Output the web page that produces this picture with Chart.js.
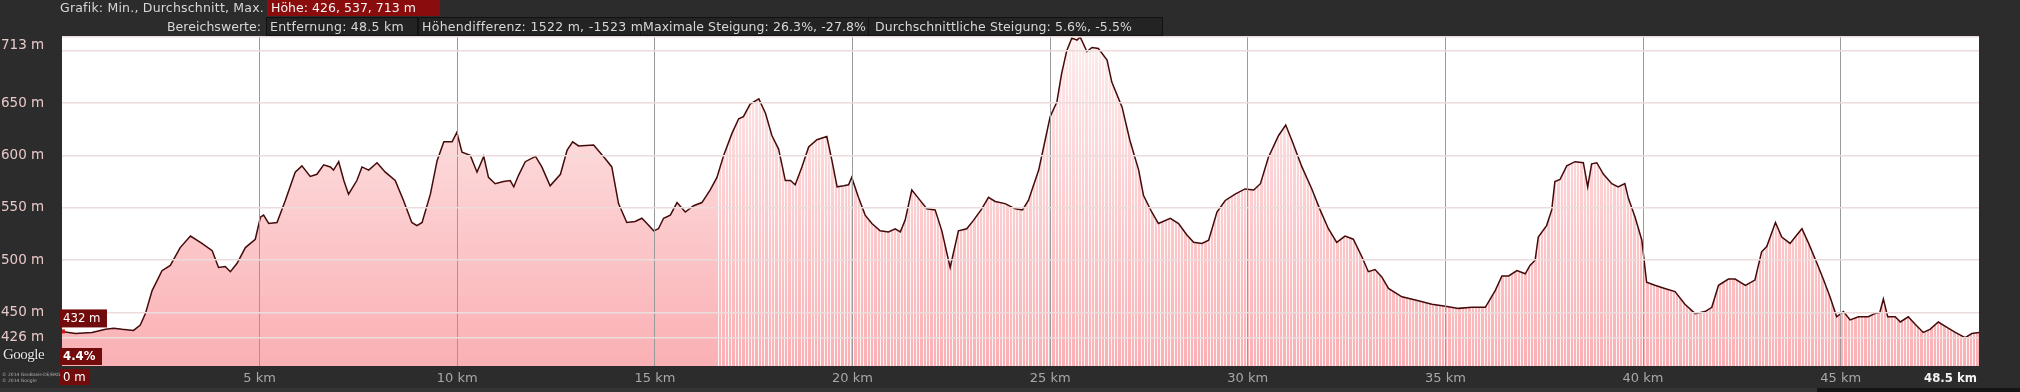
<!DOCTYPE html>
<html><head><meta charset="utf-8">
<script src="https://cdn.jsdelivr.net/npm/chart.js@4/dist/chart.umd.min.js"></script>
<style>
html,body{margin:0;padding:0;background:#2c2c2c;width:2020px;height:392px;overflow:hidden;}
#wrap{position:absolute;left:0;top:0;width:2020px;height:392px;}
#c{position:absolute;left:0;top:0;}
.bx{position:absolute;box-sizing:border-box;border:1px solid #121212;background:#232323;}
.red{background:#8a0c0c;border:none;}
.t{position:absolute;color:#d8d8d8;font-family:"DejaVu Sans",sans-serif;font-size:12.5px;line-height:15px;white-space:nowrap;}
.w{color:#f4f4f4;}
.g{position:absolute;left:3px;top:346px;font-family:"Liberation Serif",serif;font-size:15px;color:#e6e6e6;letter-spacing:-0.5px;text-shadow:0 0 2px #000;z-index:3;}
.cp{position:absolute;left:2px;font-family:"DejaVu Sans",sans-serif;font-size:4.5px;color:#aaa;z-index:3;}
.strip{position:absolute;top:388px;height:4px;}
</style></head>
<body>
<div id="wrap">
<canvas id="c" width="2020" height="392"></canvas>
<div class="bx red" style="left:267px;top:0px;width:173px;height:16px;"></div>
<div class="bx" style="left:266px;top:17px;width:152px;height:19px;"></div>
<div class="bx" style="left:418px;top:17px;width:223px;height:19px;"></div>
<div class="bx" style="left:640px;top:17px;width:229px;height:19px;"></div>
<div class="bx" style="left:868px;top:17px;width:295px;height:19px;"></div>
<span class="t" data-w="204" style="left:60px;top:0px;">Grafik: Min., Durchschnitt, Max.</span>
<span class="t w" data-w="145" style="left:271px;top:0px;" id="hoehe"></span>
<span class="t" data-w="94" style="left:167px;top:19px;">Bereichswerte:</span>
<span class="t" data-w="134" style="left:270px;top:19px;" id="b1"></span>
<span class="t" data-w="221" style="left:422px;top:19px;" id="b2"></span>
<span class="t" data-w="223" style="left:643px;top:19px;" id="b3"></span>
<span class="t" data-w="257" style="left:875px;top:19px;" id="b4"></span>
<div class="g">Google</div>
<div class="cp" style="top:372px;">© 2014 GeoBasis-DE/BKG</div>
<div class="cp" style="top:378px;">© 2014 Google</div>
<div class="strip" style="left:0;width:1817px;background:#343434;"></div>
<div class="strip" style="left:1817px;width:203px;background:#151515;"></div>
</div>
<script>
// ---- data ----
const distanceKm = [0.00,0.34,0.76,1.10,1.31,1.52,1.81,1.98,2.11,2.28,2.53,2.74,2.99,3.25,3.54,3.80,3.96,4.13,4.26,4.43,4.64,4.89,5.02,5.10,5.23,5.44,5.65,5.90,6.07,6.28,6.45,6.62,6.79,6.87,7.00,7.13,7.25,7.46,7.59,7.76,7.97,8.18,8.43,8.64,8.85,8.98,9.11,9.32,9.49,9.66,9.87,9.99,10.12,10.33,10.50,10.67,10.79,10.96,11.17,11.34,11.43,11.55,11.72,11.98,12.14,12.35,12.61,12.78,12.92,13.07,13.45,13.74,13.91,14.08,14.29,14.50,14.67,14.80,14.97,15.09,15.22,15.39,15.56,15.77,15.98,16.19,16.40,16.57,16.74,16.95,17.12,17.24,17.41,17.63,17.80,17.96,18.13,18.30,18.43,18.55,18.72,18.89,19.10,19.35,19.48,19.61,19.78,19.90,19.98,20.15,20.32,20.49,20.70,20.91,21.08,21.21,21.33,21.50,21.67,21.88,22.09,22.26,22.47,22.68,22.89,23.06,23.27,23.44,23.61,23.86,24.12,24.30,24.45,24.71,24.87,25.00,25.17,25.29,25.42,25.55,25.68,25.76,25.93,26.06,26.22,26.44,26.56,26.82,27.02,27.24,27.36,27.57,27.74,28.04,28.25,28.46,28.63,28.84,29.01,29.22,29.43,29.68,29.93,30.15,30.32,30.52,30.78,30.96,31.12,31.37,31.62,31.83,32.04,32.25,32.46,32.67,32.89,33.05,33.22,33.39,33.56,33.90,34.24,34.66,35.00,35.33,35.67,36.01,36.26,36.43,36.60,36.81,37.02,37.14,37.27,37.35,37.56,37.69,37.77,37.90,38.07,38.28,38.49,38.60,38.70,38.83,39.00,39.21,39.37,39.54,39.63,39.80,39.97,40.09,40.30,40.55,40.81,41.06,41.32,41.57,41.74,41.91,42.16,42.33,42.59,42.83,43.00,43.13,43.35,43.51,43.72,43.89,44.02,44.19,44.40,44.56,44.73,44.90,45.07,45.24,45.45,45.70,45.86,45.99,46.08,46.19,46.38,46.51,46.71,46.88,47.09,47.26,47.47,47.68,47.90,48.15,48.32,48.50];
const elevationM = [432,430,431,434,435,434,433,438,449,471,490,495,512,523,516,509,493,494,489,497,512,520,541,543,535,536,557,584,590,580,582,591,589,586,594,576,563,576,589,586,593,584,576,557,536,533,536,563,595,613,613,622,603,600,584,599,579,573,575,576,570,581,594,599,589,571,582,605,613,609,610,597,589,554,536,537,540,535,528,530,540,543,555,546,552,555,567,579,600,621,635,637,649,654,640,619,606,576,576,572,589,608,615,618,595,570,571,572,579,560,543,535,528,527,530,527,538,567,559,549,548,528,493,528,530,538,549,560,556,554,549,548,557,586,614,637,651,678,700,712,710,713,699,703,702,691,670,646,614,586,562,546,535,540,535,524,517,516,519,546,557,563,568,567,573,598,619,629,614,589,568,548,530,517,523,520,503,489,491,484,473,465,462,458,456,454,455,455,471,485,485,490,487,495,500,522,533,548,575,577,590,594,593,570,592,593,582,573,570,573,559,541,519,479,476,473,470,458,449,451,455,476,482,482,476,481,508,513,536,522,516,524,530,516,497,482,465,446,451,443,446,446,449,450,463,446,446,441,446,439,431,434,441,436,431,426,430,431];
const yTickValues = [426,450,500,550,600,650,700,713];
const xTickValues = [0,5,10,15,20,25,30,35,40,45,48.5];
const elevationStats = [426,537,713];      // min, avg, max
const totalKm = 48.5;
const climbM = [1522,-1523];
const maxGradePct = [26.3,-27.8];
const avgGradePct = [5.6,-5.5];
const cursorGradePct = 4.4;
const stripeStartKm = 16.6;

document.getElementById('hoehe').textContent = 'Höhe: ' + elevationStats.join(', ') + ' m';
document.getElementById('b1').textContent = 'Entfernung: ' + totalKm + ' km';
document.getElementById('b2').textContent = 'Höhendifferenz: ' + climbM[0] + ' m, ' + climbM[1] + ' m';
document.getElementById('b3').textContent = 'Maximale Steigung: ' + maxGradePct[0] + '%, ' + maxGradePct[1] + '%';
document.getElementById('b4').textContent = 'Durchschnittliche Steigung: ' + avgGradePct[0] + '%, ' + avgGradePct[1] + '%';
// stretch header texts to their measured widths in the reference
document.querySelectorAll('.t[data-w]').forEach(el => {
  const target = +el.dataset.w;
  const w = el.getBoundingClientRect().width;
  const n = el.textContent.length;
  el.style.letterSpacing = ((target - w) / n).toFixed(3) + 'px';
});

const yMin = 399, yMax = Math.max(...elevationM);
const labelFamily = '"DejaVu Sans",sans-serif';
const lastFont = 'bold 13px "DejaVu Sans Condensed","DejaVu Sans",sans-serif';
const mctx = document.createElement('canvas').getContext('2d');
mctx.font = lastFont;
function rightAligned(txt){
  const W = mctx.measureText(txt).width;
  const sp = mctx.measureText('\u00a0').width;
  return txt + '\u00a0'.repeat(Math.max(0, Math.round((W + 4) / sp)));
}

let patCache = null;
function areaFill(context){
  const chart = context.chart;
  const a = chart.chartArea;
  if (!a) return 'rgba(250,190,190,1)';
  const key = [a.left,a.top,a.right,a.bottom].join(',');
  if (patCache && patCache.key === key) return patCache.pat;
  const off = document.createElement('canvas');
  off.width = chart.width; off.height = chart.height;
  const o = off.getContext('2d');
  const g = o.createLinearGradient(0, a.top, 0, a.bottom);
  g.addColorStop(0, 'rgb(254,236,236)');
  g.addColorStop(1, 'rgb(250,176,180)');
  o.fillStyle = g;
  o.fillRect(0, 0, off.width, off.height);
  const sx = chart.scales.x.getPixelForValue(stripeStartKm);
  o.fillStyle = 'rgba(255,255,255,0.85)';
  for (let x = sx; x < a.right; x += 3.3) o.fillRect(Math.round(x), a.top, 1, a.bottom - a.top);
  const pat = chart.ctx.createPattern(off, 'no-repeat');
  patCache = {key, pat};
  return pat;
}

function box(ctx, x, y, w, h, text, bold){
  ctx.fillStyle = '#720b0b';
  ctx.fillRect(x, y, w, h);
  ctx.fillStyle = '#ffffff';
  ctx.font = (bold ? 'bold ' : '') + '13px "DejaVu Sans Condensed","DejaVu Sans",sans-serif';
  ctx.textAlign = 'left'; ctx.textBaseline = 'middle';
  ctx.fillText(text, x + 3, y + h/2 + 0.5);
}

const markerPlugin = {
  id: 'markers',
  afterDraw(chart){
    const {ctx, chartArea:a, scales:{x, y}} = chart;
    const px = x.getPixelForValue(distanceKm[0]);
    const py = y.getPixelForValue(elevationM[0]);
    ctx.save();
    ctx.fillStyle = '#d01818';
    ctx.fillRect(px, py - 2, 3, 4);
    box(ctx, px - 2, py - 22, 47, 18, elevationM[0] + ' m', false);
    box(ctx, px - 2, a.bottom - 18, 42, 17, cursorGradePct + '%', true);
    box(ctx, px - 2, a.bottom + 3, 30, 16, distanceKm[0] + ' m', false);
    ctx.restore();
  }
};

new Chart(document.getElementById('c'), {
  type: 'line',
  data: {
    datasets: [{
      data: distanceKm.map((d, i) => ({x: d, y: elevationM[i]})),
      borderColor: '#450a0a',
      borderWidth: 1.5,
      pointRadius: 0,
      tension: 0,
      fill: 'start',
      backgroundColor: areaFill
    }]
  },
  options: {
    responsive: false,
    animation: false,
    events: [],
    layout: {padding: {left: 1, top: 37, right: 41, bottom: 0}},
    plugins: {legend: {display: false}, tooltip: {enabled: false}},
    scales: {
      x: {
        type: 'linear', min: 0, max: totalKm,
        afterBuildTicks: s => { s.ticks = xTickValues.map(v => ({value: v})); },
        afterFit: s => { s.height = 26; s.paddingLeft = 0; s.paddingRight = 0; },
        border: {display: false},
        grid: {
          z: 1, drawTicks: false, lineWidth: 1,
          color: c => (c.tick && (c.tick.value === 0 || c.tick.value === totalKm)) ? 'rgba(0,0,0,0)' : '#9a9a9a'
        },
        ticks: {
          padding: 5, maxRotation: 0, autoSkip: false,
          font: c => (c.tick && c.tick.value === totalKm)
            ? {family: '"DejaVu Sans Condensed","DejaVu Sans",sans-serif', size: 13, weight: 'bold'}
            : {family: labelFamily, size: 13, weight: 'normal'},
          color: c => (c.tick && c.tick.value === totalKm) ? '#f2f2f2' : '#a8a8a8',
          callback: v => v === 0 ? '' : (v === totalKm ? rightAligned(v + ' km') : v + ' km')
        }
      },
      y: {
        min: yMin, max: yMax,
        afterBuildTicks: s => { s.ticks = yTickValues.map(v => ({value: v})); },
        afterFit: s => { s.width = 61; s.paddingTop = 0; s.paddingBottom = 0; },
        border: {display: false},
        grid: {z: 1, drawTicks: false, color: '#ecdcdc', lineWidth: 1.5},
        ticks: {
          crossAlign: 'far', padding: 4,
          font: {family: labelFamily, size: 13.5},
          color: '#e8c8c8',
          callback: v => v === 700 ? '' : (v === yMax ? ['', v + ' m'] : v + ' m')
        }
      }
    }
  },
  plugins: [{
    id: 'bg',
    beforeDraw(chart){
      const {ctx, chartArea:a} = chart;
      ctx.save();
      ctx.fillStyle = '#ffffff';
      ctx.fillRect(a.left, a.top, a.right - a.left, a.bottom - a.top);
      ctx.restore();
    }
  }, markerPlugin]
});
</script>
</body></html>
